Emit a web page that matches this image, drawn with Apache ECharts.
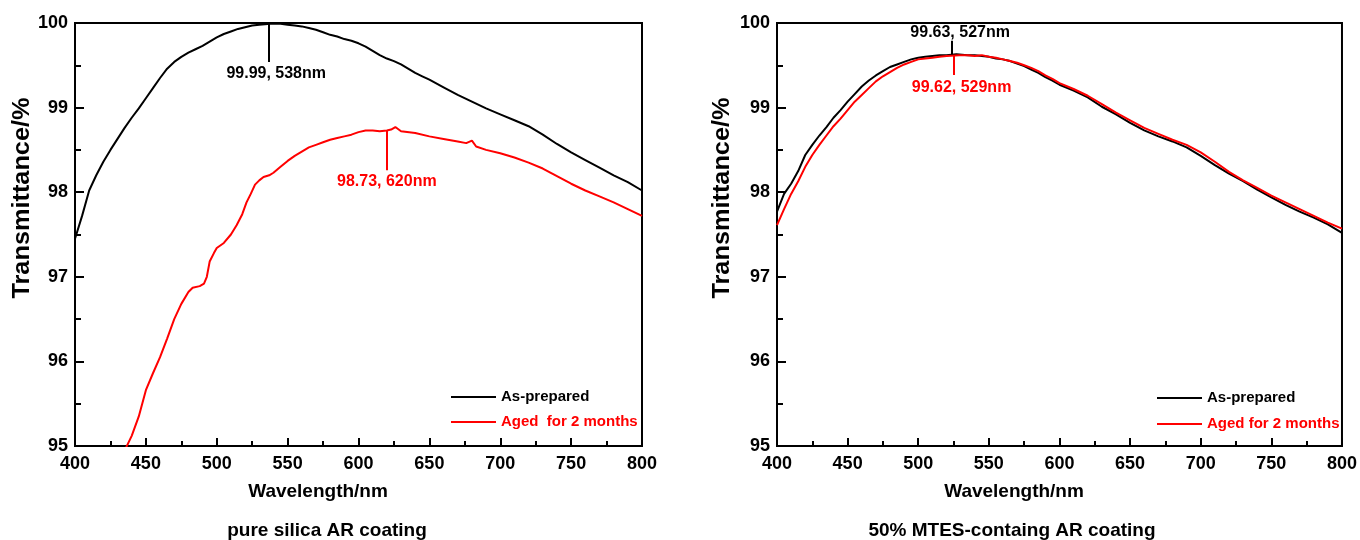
<!DOCTYPE html>
<html><head><meta charset="utf-8">
<script src="https://cdn.jsdelivr.net/npm/echarts@6/dist/echarts.min.js"></script>
<style>html,body{margin:0;padding:0;background:#fff}#c{width:1360px;height:540px}</style>
</head><body><div id="c"></div>
<script>
// ---- Left panel: pure silica AR coating ----
const leftBlackWl = [400,405,410,415,420,425,430,435,440,445,450,455,460,465,470,475,480,485,490,495,500,505,510,515,520,525,530,538,545,550,555,560,565,570,575,580,585,590,595,600,605,610,615,620,625,630,635,640,645,650,660,670,680,690,700,710,720,730,740,750,760,770,780,790,800];
const leftBlackT = [97.45,97.72,98.02,98.20,98.36,98.50,98.63,98.76,98.88,98.99,99.11,99.23,99.35,99.46,99.54,99.60,99.65,99.69,99.73,99.78,99.83,99.87,99.90,99.93,99.95,99.97,99.98,99.99,99.99,99.98,99.97,99.96,99.94,99.92,99.89,99.86,99.84,99.81,99.79,99.76,99.72,99.67,99.62,99.58,99.55,99.51,99.46,99.41,99.37,99.33,99.24,99.15,99.07,98.99,98.92,98.85,98.78,98.68,98.57,98.47,98.38,98.29,98.20,98.12,98.02];
const leftRedWl = [436,440,445,450,455,460,465,470,475,480,483,488,491,493,495,498,500,505,510,514,518,521,524,527,530,533,537,540,545,550,555,560,565,570,575,580,585,590,595,600,605,610,615,620,623,626,630,640,650,660,670,676,680,683,690,700,710,720,730,740,750,760,770,780,790,800];
const leftRedT = [94.98,95.12,95.35,95.66,95.86,96.05,96.27,96.50,96.68,96.82,96.87,96.89,96.92,97.00,97.18,97.28,97.34,97.40,97.50,97.61,97.74,97.88,97.98,98.09,98.14,98.18,98.20,98.23,98.30,98.37,98.43,98.48,98.53,98.56,98.59,98.62,98.64,98.66,98.68,98.71,98.73,98.73,98.72,98.73,98.74,98.77,98.72,98.70,98.66,98.63,98.60,98.58,98.61,98.54,98.50,98.46,98.41,98.35,98.28,98.19,98.10,98.02,97.95,97.88,97.80,97.72];

// ---- Right panel: 50% MTES-containing AR coating ----
const rightBlackWl = [400,405,410,415,420,425,430,435,440,445,450,455,460,465,470,475,480,485,490,495,500,505,510,515,520,527,535,540,545,550,555,560,565,570,575,580,585,590,595,600,610,620,630,640,650,660,670,680,690,700,710,720,730,740,750,760,770,780,790,800];
const rightBlackT = [97.77,97.98,98.10,98.25,98.44,98.56,98.67,98.77,98.88,98.97,99.07,99.16,99.25,99.32,99.38,99.43,99.48,99.51,99.54,99.57,99.59,99.60,99.61,99.62,99.62,99.63,99.62,99.62,99.61,99.60,99.58,99.57,99.55,99.52,99.49,99.45,99.41,99.36,99.32,99.27,99.20,99.12,99.01,98.92,98.82,98.73,98.66,98.60,98.53,98.43,98.32,98.22,98.13,98.03,97.94,97.85,97.77,97.70,97.62,97.52];
const rightRedWl = [400,405,410,415,420,425,430,435,440,445,450,455,460,465,470,475,480,485,490,495,500,505,510,515,520,529,535,540,545,550,555,560,565,570,575,580,585,590,595,600,610,620,630,640,650,660,670,680,690,700,710,720,730,740,750,760,770,780,790,800];
const rightRedT = [97.61,97.80,97.98,98.13,98.30,98.44,98.56,98.67,98.78,98.87,98.97,99.07,99.15,99.23,99.31,99.37,99.42,99.47,99.51,99.54,99.57,99.58,99.59,99.60,99.61,99.62,99.62,99.61,99.62,99.60,99.59,99.57,99.55,99.53,99.50,99.47,99.43,99.38,99.34,99.29,99.22,99.14,99.04,98.94,98.85,98.76,98.69,98.62,98.56,98.47,98.36,98.24,98.14,98.05,97.96,97.88,97.80,97.72,97.64,97.57];

// annotation values: [wavelength position, value, line end value, label]
const annLeftBlack = [537, 99.99, 99.54, '99.99, 538nm'];
const annLeftRed = [620, 98.73, 98.26, '98.73, 620nm'];
const annRightBlack = [524, 99.63, 99.79, '99.63, 527nm'];
const annRightRed = [525, 99.62, 99.385, '99.62, 529nm'];

const xTicks = {min: 400, max: 800, interval: 50};
const yTicks = {min: 95, max: 100, interval: 1};

const FONT = '"Liberation Sans", Arial, sans-serif';
const zip = (a, b) => a.map((v, i) => [v, b[i]]);

function xAxis(gi) {
  return {
    type: 'value', gridIndex: gi, min: xTicks.min, max: xTicks.max, interval: xTicks.interval,
    axisLine: {show: true, lineStyle: {color: '#000', width: 2}},
    axisTick: {show: true, inside: true, length: 8, lineStyle: {color: '#000', width: 2}},
    minorTick: {show: true, splitNumber: 2, length: 5, lineStyle: {color: '#000', width: 2}},
    splitLine: {show: false},
    axisLabel: {color: '#000', fontSize: 18, fontWeight: 'bold', fontFamily: FONT, margin: 9}
  };
}
function yAxis(gi) {
  return {
    type: 'value', gridIndex: gi, min: yTicks.min, max: yTicks.max, interval: yTicks.interval,
    axisLine: {show: true, lineStyle: {color: '#000', width: 2}},
    axisTick: {show: true, inside: true, length: 9, lineStyle: {color: '#000', width: 2}},
    minorTick: {show: true, splitNumber: 2, length: 6, lineStyle: {color: '#000', width: 2}},
    splitLine: {show: false},
    axisLabel: {color: '#000', fontSize: 18, fontWeight: 'bold', fontFamily: FONT, margin: 7}
  };
}
function ann(a, color, pad, dist) {
  return {
    silent: true, symbol: 'none', animation: false,
    lineStyle: {color: color, width: 2, type: 'solid'},
    label: {show: true, position: 'end', formatter: a[3], distance: dist, color: color,
      fontSize: 16, fontWeight: 'bold', fontFamily: FONT, padding: [0, 0, 0, pad]},
    data: [[{coord: [a[0], a[1]]}, {coord: [a[0], a[2]]}]]
  };
}
function series(name, wl, t, color, gi, ml) {
  return {
    name: name, type: 'line', xAxisIndex: gi, yAxisIndex: gi,
    data: zip(wl, t), showSymbol: false, symbol: 'none',
    lineStyle: {color: color, width: 2}, itemStyle: {color: color},
    clip: true, animation: false, markLine: ml
  };
}
const txt = (x, y, s, size, rot, sx) => ({
  type: 'text', x: x, y: y, rotation: rot || 0, scaleX: sx || 1,
  style: {text: s, fill: '#000', font: 'bold ' + size + 'px ' + FONT, align: 'center', verticalAlign: 'middle'}
});
const legendText = {fontSize: 15, fontWeight: 'bold', fontFamily: FONT, lineHeight: 16};

const chart = echarts.init(document.getElementById('c'), null, {renderer: 'canvas'});
chart.setOption({
  backgroundColor: '#fff',
  animation: false,
  grid: [
    {left: 75, top: 23, width: 567, height: 423, show: true, borderColor: '#000', borderWidth: 2, backgroundColor: 'transparent'},
    {left: 777, top: 23, width: 570, height: 423, show: true, borderColor: '#000', borderWidth: 2, backgroundColor: 'transparent'}
  ],
  xAxis: [xAxis(0), xAxis(1)],
  yAxis: [yAxis(0), yAxis(1)],
  legend: [
    {orient: 'vertical', left: 446, top: 384, itemWidth: 45, itemHeight: 2, itemGap: 9, icon: 'rect',
      selectedMode: false, textStyle: legendText,
      data: [{name: 'As-prepared', textStyle: {color: '#000'}}, {name: 'Aged  for 2 months', textStyle: {color: '#ff0000'}}]},
    {orient: 'vertical', left: 1152, top: 385, itemWidth: 45, itemHeight: 2, itemGap: 10, icon: 'rect',
      selectedMode: false, textStyle: legendText,
      data: [{name: 'As-prepared', textStyle: {color: '#000'}}, {name: 'Aged for 2 months', textStyle: {color: '#ff0000'}}]}
  ],
  series: [
    series('As-prepared', leftBlackWl, leftBlackT, '#000', 0, ann(annLeftBlack, '#000', 14, 4)),
    series('Aged  for 2 months', leftRedWl, leftRedT, '#ff0000', 0, ann(annLeftRed, '#ff0000', 0, 3)),
    series('As-prepared', rightBlackWl, rightBlackT, '#000', 1, ann(annRightBlack, '#000', 16, 0)),
    series('Aged for 2 months', rightRedWl, rightRedT, '#ff0000', 1, ann(annRightRed, '#ff0000', 16, 5))
  ],
  graphic: [
    txt(318, 492, 'Wavelength/nm', 19),
    txt(1014, 492, 'Wavelength/nm', 19),
    txt(327, 531, 'pure silica AR coating', 19),
    txt(1012, 531, '50% MTES-containg AR coating', 19),
    txt(23, 198, 'Transmittance/%', 23, Math.PI / 2, 1.1),
    txt(723, 198, 'Transmittance/%', 23, Math.PI / 2, 1.1)
  ]
});
</script>
</body></html>
